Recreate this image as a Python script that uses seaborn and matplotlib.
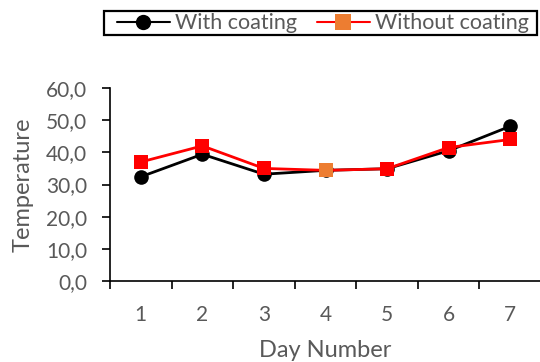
import matplotlib
matplotlib.use("Agg")
import matplotlib.pyplot as plt
from matplotlib.lines import Line2D
from matplotlib.patches import Rectangle
from matplotlib.ticker import FuncFormatter, FixedLocator
import seaborn as sns
import pandas as pd

days = [1, 2, 3, 4, 5, 6, 7]
with_coating = [32.4, 39.4, 33.2, 34.4, 34.9, 40.5, 48.1]
without_coating = [37.0, 42.0, 35.0, 34.4, 34.9, 41.5, 44.0]
highlight_idx = 3
series_names = ["With coating", "Without coating"]
y_ticks = [0, 10, 20, 30, 40, 50, 60]

sns.set_theme(style="white")
plt.rcParams['font.family'] = ['Lato', 'DejaVu Sans']
GREY = "#595959"

fig = plt.figure(figsize=(5.4, 3.62), dpi=100)
ax = fig.add_axes([110/540, 1-281/362, 431/540, (281-88)/362])

df = pd.DataFrame({"day": days, "with": with_coating, "without": without_coating})
sns.lineplot(data=df, x="day", y="with", ax=ax, color="black", lw=2,
             marker="o", markersize=10.5, markeredgewidth=0, zorder=3)
sns.lineplot(data=df, x="day", y="without", ax=ax, color="#FF0000", lw=2,
             marker="s", markersize=10, markeredgewidth=0, zorder=4)
hl = df.iloc[[highlight_idx]]
sns.scatterplot(data=hl, x="day", y="without", ax=ax, color="#ED7D31",
                marker="s", s=100, linewidth=0, zorder=5)

ax.set_xlim(0.5, 7.5)
ax.set_ylim(0, 60)
ax.set_yticks(y_ticks)
ax.yaxis.set_major_formatter(FuncFormatter(lambda v, p: f"{v:.1f}".replace(".", ",")))
ax.set_xticks(days)
ax.set_xticklabels([str(d) for d in days])
ax.xaxis.set_minor_locator(FixedLocator([d - 0.5 for d in days] + [days[-1] + 0.5]))
ax.tick_params(axis="x", which="major", length=0, pad=17, labelsize=15, labelcolor=GREY)
ax.tick_params(axis="x", which="minor", length=6, width=1.2, color="black", direction="out", bottom=True)
ax.tick_params(axis="y", which="major", length=5.5, width=1.2, color="black", direction="out", left=True,
               labelsize=15, labelcolor=GREY, pad=11)

for s in ["top", "right"]:
    ax.spines[s].set_visible(False)
for s in ["left", "bottom"]:
    ax.spines[s].set_color("black")
    ax.spines[s].set_linewidth(1.2)

ax.set_xlabel("Day Number", fontsize=17, color=GREY, labelpad=11)
ax.set_ylabel("Temperature", fontsize=17, color=GREY, labelpad=9)
ax.grid(False)

# legend frame box
fig.add_artist(Rectangle((104/540, 1-35/362), (537-104)/540, 24/362,
                         transform=fig.transFigure, fill=False, edgecolor="black", lw=1.6))
handles = [
    Line2D([], [], color="black", lw=1.5, marker="o", markersize=11, markeredgewidth=0),
    Line2D([], [], color="#FF0000", lw=1.5, marker="s", markersize=11,
           markerfacecolor="#ED7D31", markeredgewidth=0),
]
leg = fig.legend(handles, series_names, loc="center left", bbox_to_anchor=(117/540, 1-23/362),
                 ncol=2, frameon=False, fontsize=15.5, labelcolor=GREY,
                 handlelength=2.46, handletextpad=0.23, columnspacing=0.93,
                 borderpad=0.0, borderaxespad=0, handleheight=0.6)

fig.savefig("out.png", dpi=100)
